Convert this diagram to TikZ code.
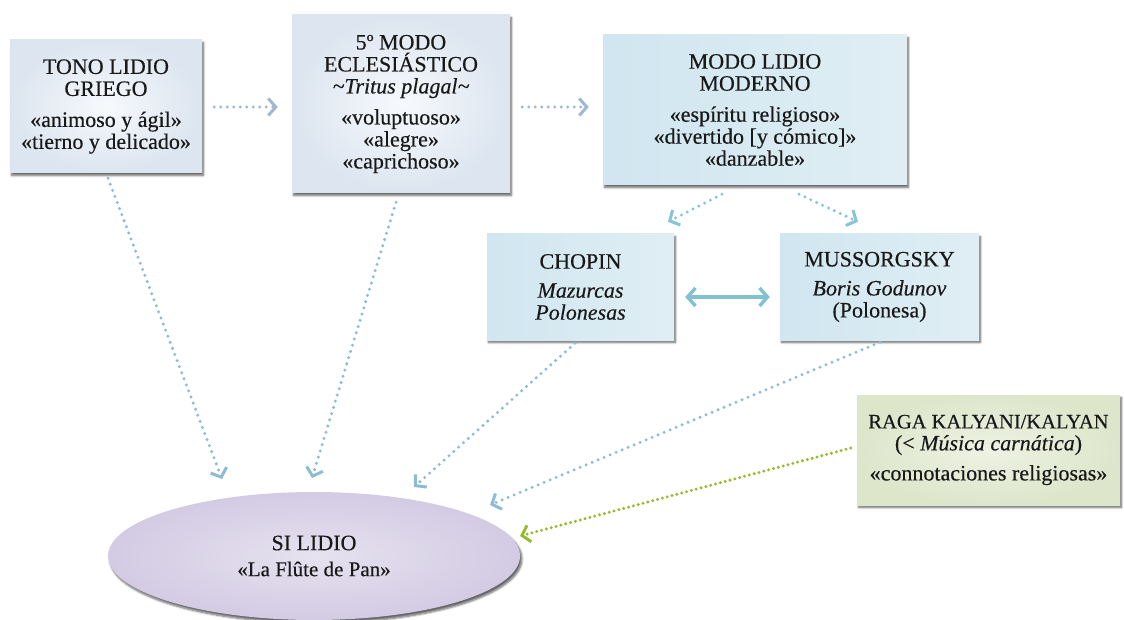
\documentclass[tikz,border=0pt]{standalone}
\usepackage{fontspec}
\setmainfont{Liberation Serif}[FakeBold=0.35]
\usetikzlibrary{arrows.meta,shadows,shadows.blur,shapes.geometric}

\definecolor{greyblueout}{HTML}{DCE5F0}
\definecolor{greybluein}{HTML}{F7F9FC}
\definecolor{cyanL}{HTML}{D0E6F0}
\definecolor{cyanR}{HTML}{E0EEF4}
\definecolor{greenout}{HTML}{DDE6CB}
\definecolor{greenin}{HTML}{EEF2E4}
\definecolor{lavout}{HTML}{D3CBE3}
\definecolor{lavin}{HTML}{E6E2EF}
\definecolor{linkgrey}{HTML}{9DB8D0}
\definecolor{linkblue}{HTML}{8CBCD4}
\definecolor{linkcyan}{HTML}{86C4D6}
\definecolor{linkboth}{HTML}{80C2D2}
\definecolor{linkgreen}{HTML}{95BB30}

\tikzset{
  card/.style={rectangle, inner sep=0pt, align=center, text=black!90,
    blur shadow={shadow xshift=1.5pt, shadow yshift=-2.5pt,
      shadow blur steps=6, shadow blur radius=2pt, shadow opacity=60}},
  greycard/.style={card, inner color=greybluein, outer color=greyblueout},
  cyancard/.style={card, left color=cyanL, right color=cyanR},
  greencard/.style={card, inner color=greenin, outer color=greenout},
  dotlink/.style={line width=3.3pt, line cap=round,
    dash pattern=on 0pt off 6.5pt,
    -{Straight Barb[length=7.5pt,width=17pt,line width=3pt]}},
}

\begin{document}
\begin{tikzpicture}[x=1pt, y=-1pt, font=\fontsize{22}{22}\selectfont]
\useasboundingbox (0,0) rectangle (1124,620);

% boxes
\node[greycard, minimum width=192pt, minimum height=133pt] (b1) at (106,106.5)
  {TONO LIDIO\\GRIEGO\\[9pt]«animoso y ágil»\\«tierno y delicado»};
\node[greycard, minimum width=218pt, minimum height=178pt] (b2) at (401,104)
  {5º MODO\\ECLESIÁSTICO\\\textit{\textasciitilde Tritus plagal\textasciitilde}\\[9pt]«voluptuoso»\\«alegre»\\«caprichoso»};
\node[cyancard, minimum width=304pt, minimum height=150pt] (b3) at (755,110)
  {MODO LIDIO\\MODERNO\\[9pt]«espíritu religioso»\\«divertido [y cómico]»\\«danzable»};
\node[cyancard, minimum width=187pt, minimum height=106pt] (ch) at (580.5,287)
  {CHOPIN\\[7pt]\textit{Mazurcas}\\\textit{Polonesas}};
\node[cyancard, minimum width=199pt, minimum height=106pt] (mu) at (879.5,287)
  {MUSSORGSKY\\[7pt]\textit{Boris Godunov}\\(Polonesa)};
\node[greencard, minimum width=263pt, minimum height=110pt] (rg) at (988.5,450)
  {{\fontsize{20.5}{22}\selectfont RAGA KALYANI/KALYAN}\\(< \textit{Música carnática})\\[8pt]«connotaciones religiosas»};

% target ellipse
\node[ellipse, inner sep=0pt, minimum width=412pt, minimum height=128pt,
  inner color=lavin, outer color=lavout, align=center, text=black!90,
  blur shadow={shadow xshift=2pt, shadow yshift=-3pt, shadow blur steps=6,
    shadow blur radius=2pt, shadow opacity=60}] (si) at (314,556)
  {SI LIDIO\\[4pt]{\fontsize{21}{22}\selectfont«La Flûte de Pan»}};

% links along the top row
\draw[dotlink, linkgrey] ([xshift=12pt,yshift=-0.5pt]b1.east) -- ([xshift=-14pt,yshift=-3pt]b2.west);
\draw[dotlink, linkgrey] ([xshift=12pt,yshift=-3pt]b2.east) -- ([xshift=-14pt,yshift=3pt]b3.west);

% modern mode to the two composers
\draw[dotlink, linkcyan] ([xshift=-33pt,yshift=-9pt]b3.south) -- ([xshift=87.5pt,yshift=12pt]ch.north);
\draw[dotlink, linkcyan] ([xshift=44pt,yshift=-9pt]b3.south) -- ([xshift=-21.5pt,yshift=12pt]mu.north);

% composers linked both ways
\draw[linkboth, line width=3.4pt, {Straight Barb[length=8pt,width=18pt]}-{Straight Barb[length=8pt,width=18pt]}]
  ([xshift=11pt,yshift=-10pt]ch.east) -- ([xshift=-10pt,yshift=-10pt]mu.west);

% everything converging on B Lydian
\draw[dotlink, linkblue] ([xshift=2pt,yshift=-5pt]b1.south) -- ([xshift=-92pt,yshift=77pt]si.center);
\draw[dotlink, linkblue] ([xshift=-5pt,yshift=-9pt]b2.south) -- ([xshift=-2pt,yshift=78pt]si.center);
\draw[dotlink, linkblue] ([xshift=-5.5pt,yshift=-3pt]ch.south) -- ([xshift=100pt,yshift=69pt]si.center);
\draw[dotlink, linkblue] ([xshift=0.5pt,yshift=-2pt]mu.south) -- ([xshift=176pt,yshift=51pt]si.center);
\draw[dotlink, linkgreen, dash pattern=on 0pt off 5pt] ([xshift=-6pt,yshift=2pt]rg.west) -- ([xshift=206pt,yshift=20pt]si.center);
\end{tikzpicture}
\end{document}
